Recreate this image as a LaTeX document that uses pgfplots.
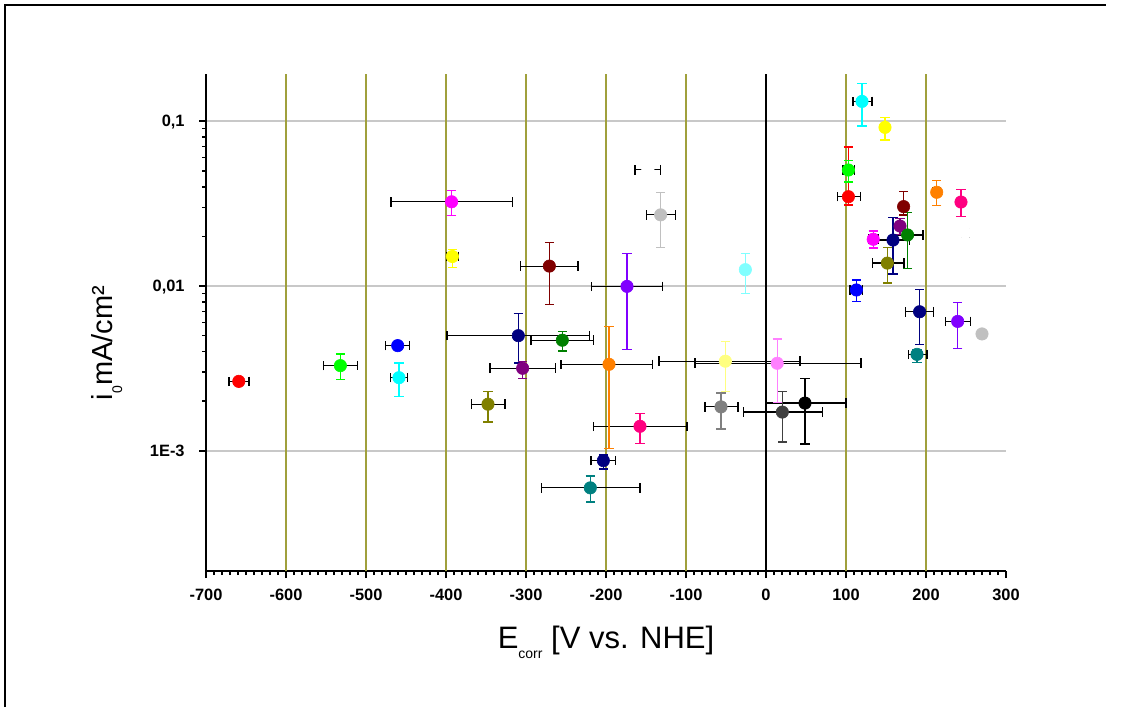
\documentclass[border=0pt]{standalone}
\usepackage{pgfplots}
\pgfplotsset{compat=1.18}
\usepackage{pgfplotstable}
\usepackage{fontspec}
\setmainfont{Liberation Sans}

\definecolor{cRed}{HTML}{FF0000}
\definecolor{cLime}{HTML}{00FF00}
\definecolor{cBlue}{HTML}{0000FF}
\definecolor{cCyan}{HTML}{00FFFF}
\definecolor{cMag}{HTML}{FF00FF}
\definecolor{cYel}{HTML}{FFFF00}
\definecolor{cOlive}{HTML}{808000}
\definecolor{cNavy}{HTML}{000080}
\definecolor{cPurple}{HTML}{800080}
\definecolor{cWine}{HTML}{800000}
\definecolor{cTeal}{HTML}{008080}
\definecolor{cDGreen}{HTML}{008000}
\definecolor{cOrange}{HTML}{FF8000}
\definecolor{cViolet}{HTML}{8000FF}
\definecolor{cPink}{HTML}{FF0080}
\definecolor{cLGray}{HTML}{C0C0C0}
\definecolor{cGray}{HTML}{808080}
\definecolor{cDGray}{HTML}{404040}
\definecolor{cLYel}{HTML}{FFFF80}
\definecolor{cLCyan}{HTML}{80FFFF}
\definecolor{cLMag}{HTML}{FF80FF}
\definecolor{gridOlive}{HTML}{A0A03C}
\definecolor{gridGray}{HTML}{C8C8C8}

% x error bars (black): x y minus plus
\pgfplotstableread{
x y xm xp
-659 0.00264 12.5 12.5
-532 0.00329 21 21
-460.4 0.00435 15 15
-458.8 0.00278 10.5 10.5
-393 0.0324 76 76
-392 0.0151 7.5 7.5
-347.5 0.00192 21 21
-309.6 0.0050 89 89
-304.2 0.00317 41 41
-254.6 0.00469 39 39
-270.8 0.0132 36 36
-196.25 0.00335 60 54
-173.75 0.00995 44.5 44.5
-157.5 0.00141 58.5 58.5
-203.3 0.000873 15.5 15.5
-219.6 0.000597 61 62
-131.7 0.027 18 18.5
-147.7 0.0507 16 16
-25.8 0.01256 4 4
-50.8 0.0035 83 93.3
-56.25 0.00185 20 21
14 0.0034 102.75 104.75
20.4 0.00172 48.4 50
48.75 0.00195 49.5 51.25
120 0.1316 11.25 12.5
148.75 0.0916 3 3
103 0.0505 7 7.4
103 0.0348 14 15
172 0.0303 4 4
213.4 0.037 5 5
249 0.021 5 5
167.5 0.0231 4 4
177 0.0204 19 19
158.75 0.019 21 21
134 0.0192 6 6
151.7 0.01377 18.7 20.8
113 0.00946 8 8
192 0.00698 17.4 17
239.6 0.0061 15.6 16.2
270 0.00512 4 4
188.75 0.00385 10.75 12.25
}\xerrtable

\pgfplotsset{
  /pgfplots/table/ptab/.style={row sep=\\,
    y error plus expr=\thisrow{t}-\thisrow{y},
    y error minus expr=\thisrow{y}-\thisrow{b}},
  pt/.style={only marks, mark=*, mark size=3.1pt, color=#1,
    mark options={fill=#1, draw=#1, line width=0.3pt},
    error bars/.cd, y dir=both, y explicit,
    error mark=|,
    error bar style={color=#1, line width=0.7pt},
    error mark options={color=#1, mark size=2.3pt, line width=0.7pt}},
}

\begin{document}
\begin{tikzpicture}[x=1pt,y=1pt]
\path[use as bounding box] (0,0) rectangle (562,353.5);
% outer frame (top and left)
\draw[line width=1pt] (2.5,0) -- (2.5,350.8) -- (553,350.8);

\begin{axis}[
  at={(103pt,68pt)}, anchor=south west,
  scale only axis, width=400pt, height=248.5pt,
  xmin=-700, xmax=300,
  ymode=log, ymin=1.87e-4, ymax=0.193,
  axis x line*=bottom, axis y line*=left,
  axis line style={line width=1pt},
  tick align=outside,
  xtick={-700,-600,-500,-400,-300,-200,-100,0,100,200,300},
  xticklabels={{-700},{-600},{-500},{-400},{-300},{-200},{-100},{0},{100},{200},{300}},
  minor x tick num=9,
  ytick={0.001,0.01,0.1},
  yticklabels={{1E-3},{0,01},{0,1}},
  major tick length=3.5pt, minor tick length=2pt,
  every tick/.style={black, line width=0.8pt},
  tick label style={font=\fontsize{8.2}{9}\selectfont\bfseries},
  xticklabel style={anchor=base, yshift=-11pt},
  yticklabel style={anchor=base east, inner sep=0pt, xshift=-7pt, yshift=-2.9pt},
  ymajorgrids, major grid style={gridGray, line width=0.6pt},
  clip=false,
]
% vertical guide lines
\draw[gridOlive, line width=0.8pt] ({axis cs:-600,0.001}|-{rel axis cs:0,0}) -- ({axis cs:-600,0.001}|-{rel axis cs:0,1});
\draw[gridOlive, line width=0.8pt] ({axis cs:-500,0.001}|-{rel axis cs:0,0}) -- ({axis cs:-500,0.001}|-{rel axis cs:0,1});
\draw[gridOlive, line width=0.8pt] ({axis cs:-400,0.001}|-{rel axis cs:0,0}) -- ({axis cs:-400,0.001}|-{rel axis cs:0,1});
\draw[gridOlive, line width=0.8pt] ({axis cs:-300,0.001}|-{rel axis cs:0,0}) -- ({axis cs:-300,0.001}|-{rel axis cs:0,1});
\draw[gridOlive, line width=0.8pt] ({axis cs:-200,0.001}|-{rel axis cs:0,0}) -- ({axis cs:-200,0.001}|-{rel axis cs:0,1});
\draw[gridOlive, line width=0.8pt] ({axis cs:-100,0.001}|-{rel axis cs:0,0}) -- ({axis cs:-100,0.001}|-{rel axis cs:0,1});
\draw[gridOlive, line width=0.8pt] ({axis cs:100,0.001}|-{rel axis cs:0,0}) -- ({axis cs:100,0.001}|-{rel axis cs:0,1});
\draw[gridOlive, line width=0.8pt] ({axis cs:200,0.001}|-{rel axis cs:0,0}) -- ({axis cs:200,0.001}|-{rel axis cs:0,1});
\draw[black, line width=1.1pt] ({axis cs:0,0.001}|-{rel axis cs:0,0}) -- ({axis cs:0,0.001}|-{rel axis cs:0,1});

% black horizontal error bars
\addplot[only marks, mark=none, black,
  error bars/.cd, x dir=both, x explicit,
  error mark=|,
  error bar style={black, line width=0.6pt},
  error mark options={black, mark size=2.4pt, line width=0.7pt}]
  table[x error plus=xp, x error minus=xm] {\xerrtable};

% coloured points with vertical error bars (x y top bottom)
\addplot[pt=cRed] table[ptab] {x y t b\\ -659 0.00264 0.00272 0.00256\\};
\addplot[pt=cLime] table[ptab] {x y t b\\ -532 0.00329 0.00386 0.00272\\};
\addplot[pt=cBlue] table[ptab] {x y t b\\ -460.4 0.00435 0.00450 0.00420\\};
\addplot[pt=cCyan] table[ptab] {x y t b\\ -458.8 0.00278 0.00341 0.00213\\};
\addplot[pt=cMag] table[ptab] {x y t b\\ -393 0.0324 0.0378 0.0267\\};
\addplot[pt=cYel] table[ptab] {x y t b\\ -392 0.0151 0.0167 0.0130\\};
\addplot[pt=cOlive] table[ptab] {x y t b\\ -347.5 0.00192 0.00230 0.00150\\};
\addplot[pt=cNavy] table[ptab] {x y t b\\ -309.6 0.0050 0.00679 0.00341\\};
\addplot[pt=cPurple] table[ptab] {x y t b\\ -304.2 0.00317 0.00348 0.00276\\};
\addplot[pt=cDGreen] table[ptab] {x y t b\\ -254.6 0.00469 0.00528 0.00404\\};
\addplot[pt=cWine] table[ptab] {x y t b\\ -270.8 0.0132 0.0183 0.00774\\};
\addplot[pt=cOrange] table[ptab] {x y t b\\ -196.25 0.00335 0.00566 0.00103\\};
\addplot[pt=cViolet] table[ptab] {x y t b\\ -173.75 0.00995 0.0157 0.00413\\};
\addplot[pt=cPink] table[ptab] {x y t b\\ -157.5 0.00141 0.00168 0.00111\\};
\addplot[pt=cNavy] table[ptab] {x y t b\\ -203.3 0.000873 0.000946 0.000778\\};
\addplot[pt=cTeal] table[ptab] {x y t b\\ -219.6 0.000597 0.000705 0.000489\\};
\addplot[pt=cLGray] table[ptab] {x y t b\\ -131.7 0.027 0.0368 0.0171\\};
\addplot[pt=white] table[ptab] {x y t b\\ -147.7 0.0507 0.0507 0.0507\\};
\addplot[pt=cLCyan] table[ptab] {x y t b\\ -25.8 0.01256 0.0158 0.00903\\};
\addplot[pt=cLYel] table[ptab] {x y t b\\ -50.8 0.0035 0.0046 0.00229\\};
\addplot[pt=cGray] table[ptab] {x y t b\\ -56.25 0.00185 0.00225 0.00136\\};
\addplot[pt=cLMag] table[ptab] {x y t b\\ 14 0.0034 0.00476 0.00197\\};
\addplot[pt=cDGray] table[ptab] {x y t b\\ 20.4 0.00172 0.0023 0.00113\\};
\addplot[pt=black] table[ptab] {x y t b\\ 48.75 0.00195 0.00274 0.0011\\};
\addplot[pt=cCyan] table[ptab] {x y t b\\ 120 0.1316 0.169 0.0933\\};
\addplot[pt=cYel] table[ptab] {x y t b\\ 148.75 0.0916 0.105 0.077\\};
\addplot[pt=cRed] table[ptab] {x y t b\\ 103 0.0348 0.0696 0.031\\};
\addplot[pt=cLime] table[ptab] {x y t b\\ 103 0.0505 0.0575 0.0428\\};
\addplot[pt=cWine] table[ptab] {x y t b\\ 172 0.0303 0.0373 0.027\\};
\addplot[pt=cOrange] table[ptab] {x y t b\\ 213.4 0.037 0.0435 0.0307\\};
\addplot[pt=cPink] table[ptab] {x y t b\\ 243.75 0.0323 0.0385 0.0263\\};
\addplot[pt=white] table[ptab] {x y t b\\ 249 0.021 0.021 0.021\\};
\addplot[pt=cPurple] table[ptab] {x y t b\\ 167.5 0.0231 0.0257 0.0205\\};
\addplot[pt=cDGreen] table[ptab] {x y t b\\ 177 0.0204 0.028 0.0128\\};
\addplot[pt=cNavy] table[ptab] {x y t b\\ 158.75 0.019 0.026 0.0118\\};
\addplot[pt=cMag] table[ptab] {x y t b\\ 134 0.0192 0.0216 0.017\\};
\addplot[pt=cOlive] table[ptab] {x y t b\\ 151.7 0.01377 0.0171 0.0104\\};
\addplot[pt=cBlue] table[ptab] {x y t b\\ 113 0.00946 0.0109 0.00807\\};
\addplot[pt=cNavy] table[ptab] {x y t b\\ 192 0.00698 0.0095 0.00443\\};
\addplot[pt=cViolet] table[ptab] {x y t b\\ 239.6 0.0061 0.00793 0.00419\\};
\addplot[pt=cLGray] table[ptab] {x y t b\\ 270 0.00512 0.00525 0.00499\\};
\addplot[pt=cTeal] table[ptab] {x y t b\\ 188.75 0.00385 0.0041 0.00345\\};
\end{axis}

% axis titles
\node[anchor=base, inner sep=0pt] at (303,29.5)
  {\fontsize{15.5}{17}\selectfont E\raisebox{-5pt}{\fontsize{7}{8}\selectfont corr} [V vs. NHE]};
\node[rotate=90, anchor=base, inner sep=0pt] at (56,182)
  {\fontsize{14.5}{16}\selectfont i\raisebox{-5pt}{\fontsize{7}{8}\selectfont 0}mA/cm²};
\end{tikzpicture}
\end{document}
